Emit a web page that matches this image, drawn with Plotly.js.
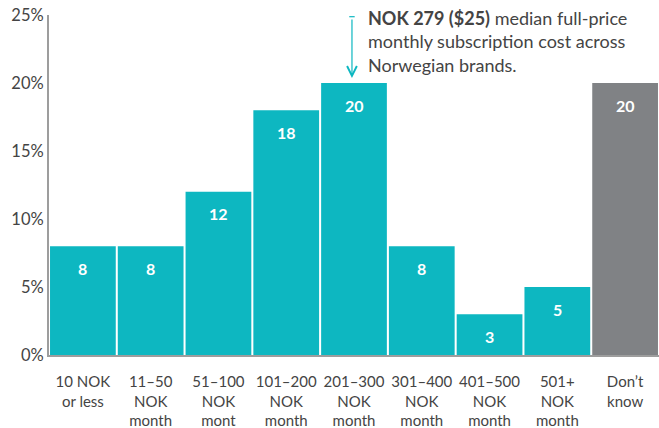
<!DOCTYPE html>
<html>
<head>
<meta charset="utf-8">
<script src="https://cdn.plot.ly/plotly-3.0.1.min.js"></script>
<style>html,body{margin:0;padding:0;background:#fff;}#chart{width:659px;height:428px;}</style>
</head>
<body>
<div id="chart"></div>
<script>
const categories = ["10 NOK<br>or less", "11–50<br>NOK<br>month", "51–100<br>NOK<br>mont", "101–200<br>NOK<br>month", "201–300<br>NOK<br>month", "301–400<br>NOK<br>month", "401–500<br>NOK<br>month", "501+<br>NOK<br>month", "Don’t<br>know"];
const values = [8, 8, 12, 18, 20, 8, 3, 5, 20];
const barColors = ["#0db7c1", "#0db7c1", "#0db7c1", "#0db7c1", "#0db7c1", "#0db7c1", "#0db7c1", "#0db7c1", "#808285"];
const yTickVals = [0, 5, 10, 15, 20, 25];
const yTickText = ["0%", "5%", "10%", "15%", "20%", "25%"];
const medianIndex = 4;

const FONT = "Lato, 'Open Sans', sans-serif";

const trace = {
  type: "bar",
  x: categories,
  y: values,
  marker: {color: barColors, line: {width: 0}},
  hoverinfo: "none"
};

const labelAnnotations = categories.map((c, i) => ({
  x: c, y: values[i], xref: "x", yref: "y",
  text: "<b>" + values[i] + "</b>",
  showarrow: false, yanchor: "middle", yshift: -22,
  font: {family: FONT, size: 16, color: "#ffffff"}
}));

const layout = {
  width: 659, height: 428,
  margin: {l: 49, r: 0, t: 15, b: 73},
  paper_bgcolor: "#ffffff", plot_bgcolor: "#ffffff",
  bargap: 0.03,
  showlegend: false,
  font: {family: FONT, color: "#444444"},
  xaxis: {
    type: "category",
    showgrid: false, zeroline: false,
    showline: true, linecolor: "#9d9d9d", linewidth: 2,
    ticks: "", ticklabelstandoff: 12,
    tickfont: {family: FONT, size: 15, color: "#444444"},
    range: [-0.5, 8.5]
  },
  yaxis: {
    range: [0, 25], showgrid: false, zeroline: false,
    showline: true, linecolor: "#9d9d9d", linewidth: 2,
    tickvals: yTickVals, ticktext: yTickText, ticks: "",
    tickfont: {family: FONT, size: 16.5, color: "#444444"}
  },
  annotations: labelAnnotations.concat([
    {
      xref: "x", yref: "paper", x: medianIndex - 0.03, y: 0.815,
      ax: 0, ay: -60, axref: "pixel", ayref: "pixel",
      showarrow: true, arrowhead: 5, arrowsize: 1.6, arrowwidth: 1.2, arrowcolor: "#0db7c1",
      text: ""
    },
    {
      xref: "paper", yref: "paper", x: 0.519, y: 1.03, xanchor: "left", yanchor: "top", align: "left",
      showarrow: false,
      text: "<b>NOK 279 ($25)</b> median full-price<br>monthly subscription cost across<br>Norwegian brands.",
      font: {family: FONT, size: 18, color: "#444444"}
    }
  ]),
  shapes: [
    {type: "line", xref: "x", yref: "paper", x0: medianIndex - 0.07, x1: medianIndex + 0.01, y0: 0.995, y1: 0.995, line: {color: "#0db7c1", width: 1.2}}
  ]
};

Plotly.newPlot("chart", [trace], layout, {displayModeBar: false, staticPlot: true});
</script>
</body>
</html>
